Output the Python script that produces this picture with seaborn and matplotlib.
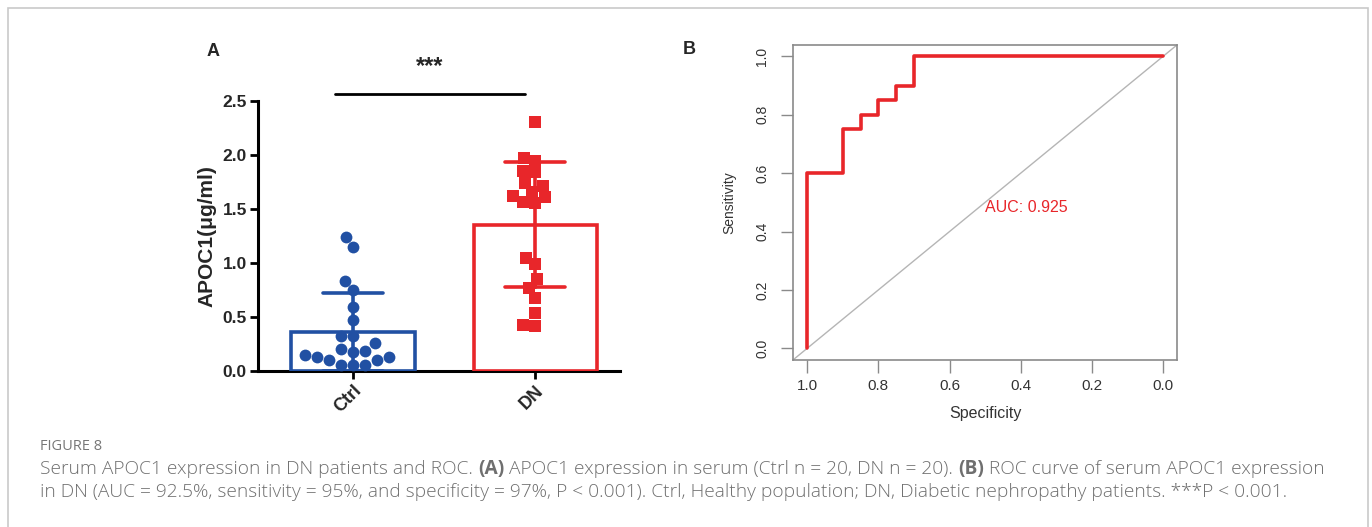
import matplotlib
matplotlib.use("Agg")
import matplotlib.pyplot as plt
import seaborn as sns
import pandas as pd
from matplotlib.patches import Rectangle

# APOC1 serum levels (ug/ml)
ctrl_values = [1.24, 1.15, 0.83, 0.75, 0.59, 0.47, 0.32, 0.32, 0.26, 0.20,
               0.18, 0.13, 0.10, 0.06, 0.06, 0.06, 0.10, 0.13, 0.15, 0.19]
dn_values = [2.31, 1.95, 1.97, 1.84, 1.85, 1.74, 1.71, 1.66, 1.61, 1.62,
             1.56, 1.57, 1.05, 0.99, 0.85, 0.77, 0.68, 0.54, 0.42, 0.43]
groups = ["Ctrl", "DN"]
group_colors = {"Ctrl": "#2150a3", "DN": "#e8262a"}

# ROC curve steps (panel B)
specificity = [1.0, 1.0, 0.9, 0.85, 0.8, 0.75, 0.7, 0.0]
sensitivity = [0.0, 0.6, 0.75, 0.8, 0.85, 0.9, 1.0, 1.0]
auc_label = "AUC: 0.925"
roc_ticks = [0.0, 0.2, 0.4, 0.6, 0.8, 1.0]

sns.set_style("white")
plt.rcParams["font.family"] = ["Liberation Sans", "DejaVu Sans"]

df = pd.DataFrame({
    "group": ["Ctrl"] * len(ctrl_values) + ["DN"] * len(dn_values),
    "value": ctrl_values + dn_values,
})

fig = plt.figure(figsize=(13.72, 5.27), dpi=100)

# ---------------- Panel A ----------------
axA = fig.add_axes([0.188, 0.296, 0.264, 0.512])
sns.swarmplot(data=df[df.group == "Ctrl"], x="group", y="value", order=groups,
              color=group_colors["Ctrl"], marker="o", size=8.5, ax=axA, zorder=3)
sns.swarmplot(data=df[df.group == "DN"], x="group", y="value", order=groups,
              color=group_colors["DN"], marker="s", size=8, ax=axA, zorder=3)
sns.barplot(data=df, x="group", y="value", order=groups, hue="group",
            palette=group_colors, legend=False, fill=False, width=0.676,
            errorbar="sd", capsize=0.33, linewidth=2.6,
            err_kws={"linewidth": 2.6}, ax=axA, zorder=4)
axA.set_ylim(0, 2.5)
axA.set_xlim(-0.522, 1.467)
axA.set_yticks([0, 0.5, 1.0, 1.5, 2.0, 2.5])
axA.set_yticklabels(["0.0", "0.5", "1.0", "1.5", "2.0", "2.5"],
                    fontsize=12.5, fontweight="bold")
axA.set_xticks([0, 1])
axA.set_xticklabels(groups, fontsize=13, fontweight="bold", rotation=45,
                    ha="right", rotation_mode="anchor")
axA.set_xlabel("")
axA.set_ylabel("APOC1(μg/ml)", fontsize=15, fontweight="bold", labelpad=4)
sns.despine(ax=axA)
for s in ["left", "bottom"]:
    axA.spines[s].set_linewidth(2.2)
    axA.spines[s].set_color("black")
axA.tick_params(axis="both", direction="out", length=6, width=2.0,
                color="black", pad=2, left=True, bottom=True)

# significance bar
axA.plot([-0.1, 0.945], [2.565, 2.565], color="black", lw=2, clip_on=False)
axA.text(0.42, 2.82, "***", ha="center", va="center", fontsize=17,
         fontweight="bold")
fig.text(213 / 1372, 1 - 52 / 527, "A", fontsize=13, fontweight="bold",
         ha="center", va="center")

# ---------------- Panel B ----------------
axB = fig.add_axes([0.578, 0.317, 0.280, 0.598])
roc_df = pd.DataFrame({"Specificity": specificity, "Sensitivity": sensitivity})
axB.axline((1, 0), (0, 1), color="#b5b5b5", lw=1.0, zorder=1)
sns.lineplot(data=roc_df, x="Specificity", y="Sensitivity", sort=False,
             estimator=None, drawstyle="steps-post", color="#e8262a",
             lw=2.6, ax=axB, zorder=3)
axB.set_xlim(1.04, -0.04)
axB.set_ylim(-0.04, 1.04)
axB.set_xticks(roc_ticks)
axB.set_xticklabels([f"{t:.1f}" for t in roc_ticks], fontsize=11,
                    color="#333333")
axB.set_yticks(roc_ticks)
axB.set_yticklabels([f"{t:.1f}" for t in roc_ticks], fontsize=10,
                    color="#333333", rotation=90, va="center")
axB.set_xlabel("Specificity", fontsize=11.5, color="#333333", labelpad=9)
axB.set_ylabel("Sensitivity", fontsize=10, color="#333333", labelpad=14)
for s in axB.spines.values():
    s.set_color("#8a8a8a")
    s.set_linewidth(1.2)
axB.tick_params(axis="both", direction="out", length=9, width=1.0,
                color="#8a8a8a", left=True, bottom=True)
axB.tick_params(axis="y", pad=8)
axB.tick_params(axis="x", pad=5)
axB.text(0.5, 0.483, auc_label, color="#e8262a", fontsize=11.5,
         ha="left", va="center")
fig.text(689 / 1372, 1 - 50 / 527, "B", fontsize=13, fontweight="bold",
         ha="center", va="center")

# ---------------- Caption ----------------
cap_color = "#6f6f6f"
cap_font = ["Open Sans", "DejaVu Sans"]
fig.text(40 / 1372, 1 - 446 / 527, "FIGURE 8", fontsize=10.5, color="#777777",
         family=cap_font, va="center")

renderer = fig.canvas.get_renderer()


def write_pieces(y_px, pieces, size=13.8):
    x = 40 / 1372
    for txt, weight in pieces:
        t = fig.text(x, 1 - y_px / 527, txt, fontsize=size, color=cap_color,
                     family=cap_font, fontweight=weight, va="center")
        bb = t.get_window_extent(renderer=renderer)
        x += bb.width / fig.bbox.width


write_pieces(469, [
    ("Serum APOC1 expression in DN patients and ROC. ", "light"),
    ("(A)", "bold"),
    (" APOC1 expression in serum (Ctrl n = 20, DN n = 20). ", "light"),
    ("(B)", "bold"),
    (" ROC curve of serum APOC1 expression", "light"),
])
write_pieces(492, [
    ("in DN (AUC = 92.5%, sensitivity = 95%, and specificity = 97%, P < 0.001). "
     "Ctrl, Healthy population; DN, Diabetic nephropathy patients. ***P < 0.001.",
     "light"),
])

# light grey frame around the figure
fig.patches.append(Rectangle((8 / 1372, -0.02), 1360 / 1372, 1 - 8 / 527 + 0.02,
                             transform=fig.transFigure, fill=False,
                             edgecolor="#c9c9c9", lw=1.2))

fig.savefig("out.png", dpi=100)
